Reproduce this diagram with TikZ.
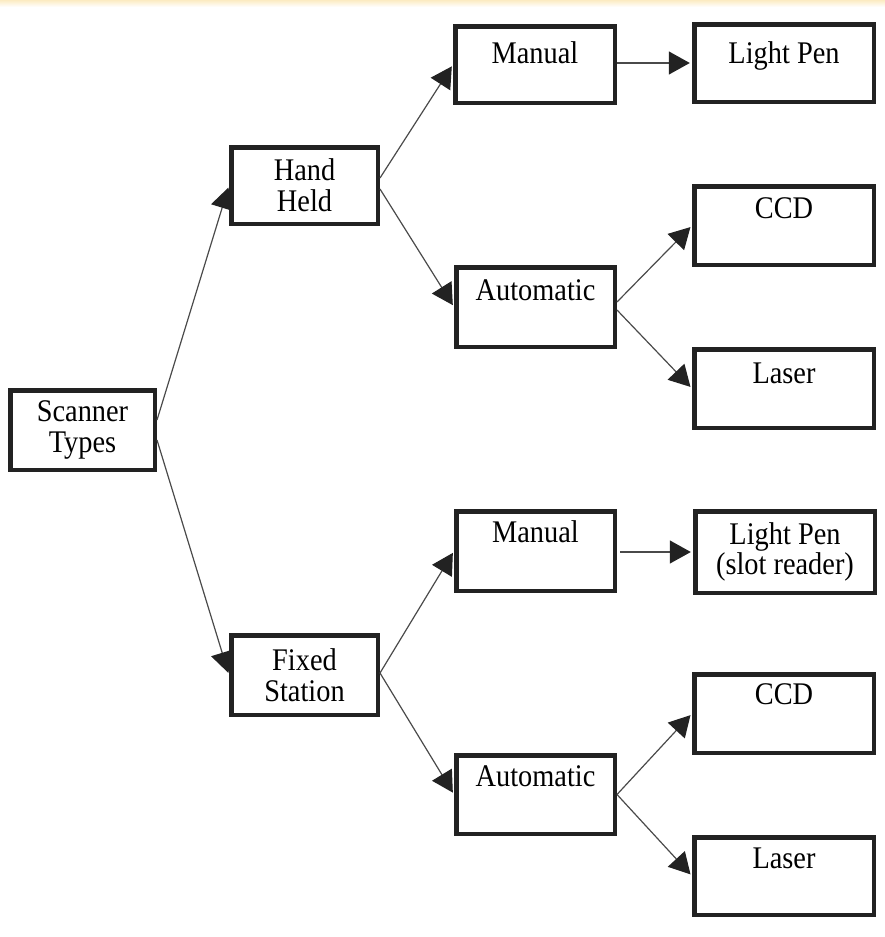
\documentclass[tikz,border=0pt]{standalone}
\usepackage{fontspec}
\setmainfont{Liberation Serif}[FakeStretch=0.9]
\usetikzlibrary{arrows.meta}
\definecolor{ink}{HTML}{222222}
\definecolor{wire}{HTML}{4A4A4A}
\definecolor{band}{HTML}{FCEBC2}
\begin{document}
\begin{tikzpicture}[x=1pt,y=-1pt,
  box/.style={draw=ink,line width=4.5pt,inner sep=0pt,align=center,
    font=\fontsize{31.5}{31}\selectfont,text=black},
  txt/.style={inner sep=0pt,font=\fontsize{31.5}{31}\selectfont,text=black,anchor=base},
  conn/.style={draw=wire,line width=1.2pt,shorten >=2.2pt,
    -{Triangle[length=21pt,width=23pt,color=ink,fill=ink]}}]
\useasboundingbox (0,0) rectangle (885,937);
% pale band along the top edge
\shade[top color=band,bottom color=white,draw=none] (0,0) rectangle (885,7);

% root
\node[box,minimum width=144.5pt,minimum height=79.5pt] (st) at (82.5,430) {Scanner\\Types};
% second level
\node[box,minimum width=146.5pt,minimum height=76.5pt] (hh) at (304.5,185.5) {Hand\\Held};
\node[box,minimum width=146.5pt,minimum height=79.5pt] (fs) at (304.5,675) {Fixed\\Station};
% third level
\node[box,minimum width=159.5pt,minimum height=76.5pt] (m1) at (535,64.5) {};
\node[box,minimum width=158.5pt,minimum height=79.5pt] (a1) at (535.5,307) {};
\node[box,minimum width=158.5pt,minimum height=79.5pt] (m2) at (535.5,551) {};
\node[box,minimum width=158.5pt,minimum height=78.5pt] (a2) at (535.5,794.5) {};
% leaves
\node[box,minimum width=179.5pt,minimum height=77.5pt] (lp1) at (784,63) {};
\node[box,minimum width=179.5pt,minimum height=78.5pt] (c1) at (784,225.5) {};
\node[box,minimum width=179.5pt,minimum height=78.5pt] (l1) at (784,388.5) {};
\node[box,minimum width=179.5pt,minimum height=81.5pt,
      font=\fontsize{31.5}{28}\selectfont] (lp2) at (785,552) {Light Pen\\(slot reader)};
\node[box,minimum width=179.5pt,minimum height=78.5pt] (c2) at (784,713.5) {};
\node[box,minimum width=179.5pt,minimum height=77.5pt] (l2) at (784,876) {};

% labels set near the top of their boxes
\node[txt] (m1t) at (535,63) {Manual};
\node[txt] (lp1t) at (784,63) {Light Pen};
\node[txt] (a1t) at (535.5,300) {Automatic};
\node[txt] (c1t) at (784,218) {CCD};
\node[txt] (l1t) at (784,383) {Laser};
\node[txt] (m2t) at (535.5,542) {Manual};
\node[txt] (c2t) at (784,704) {CCD};
\node[txt] (a2t) at (535.5,786) {Automatic};
\node[txt] (l2t) at (784,868) {Laser};

% connectors
\draw[conn] ([yshift=10pt]st.east) -- (hh.west);
\draw[conn] ([yshift=-10pt]st.east) -- (fs.west);
\draw[conn] ([yshift=7.5pt]hh.east) -- (m1.west);
\draw[conn] ([yshift=-3.5pt]hh.east) -- (a1.west);
\draw[conn] ([yshift=2pt]fs.east) -- (m2.west);
\draw[conn] ([yshift=2pt]fs.east) -- (a2.west);
\draw[conn] ([yshift=5pt]a1.east) -- (c1.west);
\draw[conn] ([yshift=-3pt]a1.east) -- (l1.west);
\draw[conn] (a2.east) -- (c2.west);
\draw[conn] (a2.east) -- (l2.west);
\draw[conn] (m1.east |- lp1.west) -- (lp1.west);
\draw[conn] ([xshift=3pt]m2.east |- lp2.west) -- (lp2.west);
\end{tikzpicture}
\end{document}
